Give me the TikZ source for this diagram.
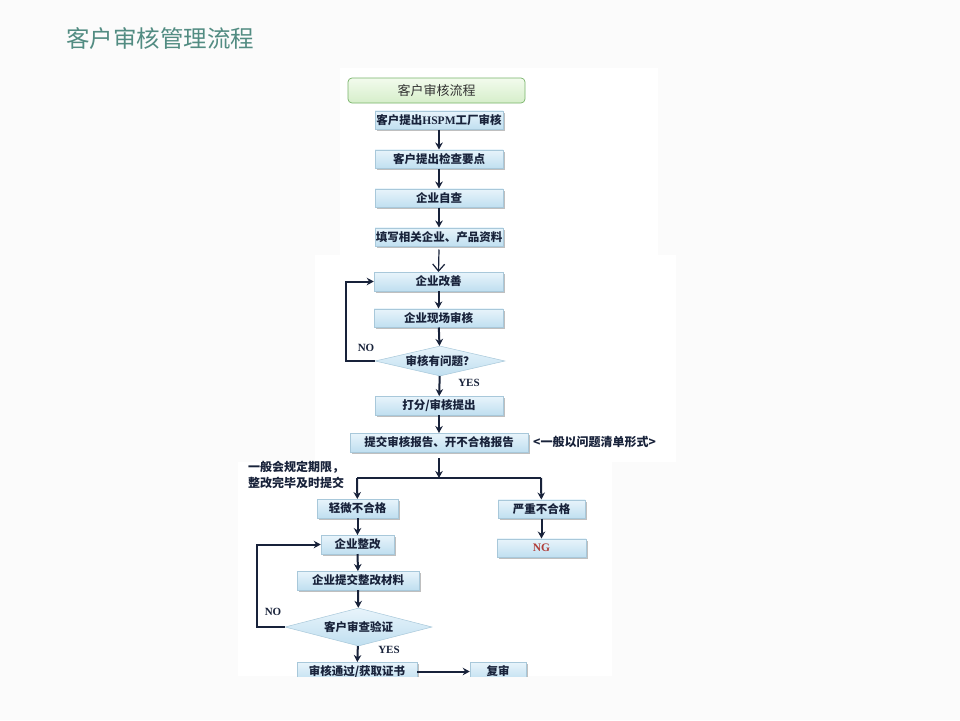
\documentclass[tikz,border=0pt]{standalone}
\usepackage{fontspec}
\usetikzlibrary{shapes.geometric,arrows.meta,shadows}
\newfontfamily\cjk{Noto Sans CJK SC}
\newfontfamily\serifb{Liberation Serif}
\definecolor{titlec}{RGB}{82,140,130}
\definecolor{navy}{RGB}{24,34,58}
\definecolor{boxtop}{RGB}{232,244,251}
\definecolor{boxbot}{RGB}{192,223,240}
\definecolor{boxline}{RGB}{168,200,218}
\definecolor{grtop}{RGB}{242,251,237}
\definecolor{grbot}{RGB}{214,238,202}
\definecolor{grline}{RGB}{120,180,105}
\definecolor{ngred}{RGB}{176,62,58}
\definecolor{bgc}{RGB}{251,251,251}
\begin{document}
\begin{tikzpicture}[x=1pt,y=-1pt,
  box/.style={draw=boxline, line width=0.5pt, top color=boxtop, bottom color=boxbot,
    minimum height=18.5pt, inner sep=0pt, text=navy,
    font=\cjk\bfseries\fontsize{11.5}{13}\selectfont,
    drop shadow={shadow xshift=2pt,shadow yshift=-2pt,fill=black!45,opacity=0.55}},
  dia/.style={diamond, draw=boxline, line width=0.5pt, top color=boxtop, bottom color=boxbot,
    inner sep=0pt, shape aspect=4, text=navy,
    font=\cjk\bfseries\fontsize{11.5}{13}\selectfont},
  startbox/.style={draw=grline, line width=0.7pt, rounded corners=4pt, top color=grtop,
    bottom color=grbot, minimum width=177pt, minimum height=25pt, inner sep=0pt,
    text=black!80, font=\cjk\fontsize{13}{15}\selectfont},
  arr/.style={-{Stealth[length=7pt,width=7.5pt]}, line width=2pt, draw=navy},
  line/.style={line width=2pt, draw=navy},
  lbl/.style={text=navy, font=\serifb\bfseries\fontsize{11}{12}\selectfont, inner sep=0pt},
  note/.style={text=navy, font=\cjk\bfseries\fontsize{12}{15.5}\selectfont, inner sep=0pt, align=left}
]
\useasboundingbox (0,0) rectangle (960,720);
\fill[bgc] (0,0) rectangle (960,720);
\fill[white] (340,68) rectangle (658,255);
\fill[white] (315,255) rectangle (676,462);
\fill[white] (238,462) rectangle (612,676);

\node[anchor=west, inner sep=0pt, text=titlec, font=\cjk\fontsize{23.5}{26}\selectfont] (title) at (66,39) {客户审核管理流程};

\begin{scope}
\clip (0,0) rectangle (960,676);
\node[startbox] (s) at (436.5,90.5) {客户审核流程};
\node[box, minimum width=128pt] (b1) at (439,120) {客户提出\textrm{\serifb\bfseries HSPM}工厂审核};
\node[box, minimum width=128pt] (b2) at (439,159) {客户提出检查要点};
\node[box, minimum width=128pt] (b3) at (439,198) {企业自查};
\node[box, minimum width=128pt] (b4) at (439,237) {填写相关企业、产品资料};
\node[box, minimum width=129pt] (b5) at (438.5,281.5) {企业改善};
\node[box, minimum width=129pt] (b6) at (438.5,318) {企业现场审核};
\node[dia, minimum width=130pt, minimum height=30pt] (d1) at (440,361) {审核有问题？};
\node[box, minimum width=128pt] (b7) at (439,405.5) {打分/审核提出};
\node[box, minimum width=178pt] (b8) at (439,442.5) {提交审核报告、开不合格报告};
\node[note, anchor=west] (n1) at (533,442) {<一般以问题清单形式>};
\coordinate (j) at (439,478);
\coordinate (jl) at (357,478);
\coordinate (jr) at (541,478);
\node[note, anchor=north west] (n2) at (248,461) {一般会规定期限，\\整改完毕及时提交};
\node[box, minimum width=81pt] (b9) at (357.5,508.5) {轻微不合格};
\node[box, minimum width=87pt] (b10) at (541.5,509) {严重不合格};
\node[box, minimum width=89pt, text=ngred, font=\serifb\bfseries\fontsize{11.5}{13}\selectfont] (b11) at (541.5,548) {NG};
\node[box, minimum width=73pt] (b12) at (357.5,544.5) {企业整改};
\node[box, minimum width=122pt] (b13) at (358,580.5) {企业提交整改材料};
\node[dia, minimum width=147pt, minimum height=38pt] (d2) at (358.5,627) {客户审查验证};
\node[box, minimum width=120pt] (b14) at (357,671.5) {审核通过/获取证书};
\node[box, minimum width=56pt] (b15) at (498,671.5) {复审};

\node[lbl] (no1) at (366,348) {NO};
\node[lbl] (yes1) at (469,383) {YES};
\node[lbl] (no2) at (273,612) {NO};
\node[lbl] (yes2) at (389,650) {YES};

\draw[arr] (b1) -- (b2);
\draw[arr] (b2) -- (b3);
\draw[arr] (b3) -- (b4);
\draw[-{Straight Barb[length=7pt,width=12pt]}, line width=1.2pt, draw=navy] (b4.south) ++(0,3) -- (b5.north);
\draw[arr] (b5) -- (b6);
\draw[arr] (b6) -- (d1);
\draw[arr] (d1.west) -- ++(-29,0) |- (b5.west);
\draw[arr] (d1) -- (b7);
\draw[arr] (b7) -- (b8);
\draw[arr] (b8.south) ++(0,6) -- (j);
\draw[line] (jl) -- (jr);
\draw[arr] (jl) -- (b9);
\draw[arr] (jr) -- (b10);
\draw[arr] (b10) -- (b11);
\draw[arr] (b9) -- (b12);
\draw[arr] (b12) -- (b13);
\draw[arr] (b13) -- (d2);
\draw[arr] (d2.west) -- ++(-28,0) |- (b12.west);
\draw[arr] (d2) -- (b14);
\draw[arr] (b14) -- (b15);
\end{scope}
\end{tikzpicture}
\end{document}
